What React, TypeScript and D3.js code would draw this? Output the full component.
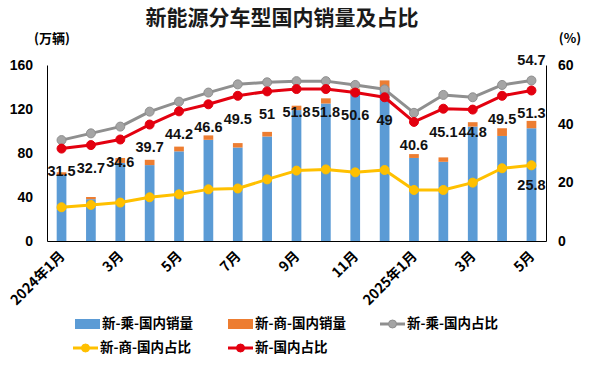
// @ts-nocheck
import * as d3 from 'd3';
import React, { useEffect, useRef } from 'react';

const months = [
  '2024年1月', '2月', '3月', '4月', '5月', '6月', '7月', '8月', '9月', '10月', '11月', '12月',
  '2025年1月', '2月', '3月', '4月', '5月',
];

// 万辆
const passengerSales = [60, 38, 71, 69, 81.5, 92, 85, 95, 119, 125, 134, 139, 75.5, 72, 104, 95.5, 102.5];
const commercialSales = [2.5, 2, 4.5, 4.8, 4.3, 4, 4, 4.2, 4, 4.7, 4.5, 7, 3.5, 4, 4, 7, 6.7];

// %
const passengerShare = [34.4, 36.7, 39, 44.1, 47.5, 50.6, 53.4, 54.1, 54.5, 54.5, 53.2, 51.7, 43.7, 49.8, 49, 53.2, 54.7];
const commercialShare = [11.5, 12.3, 13.1, 14.9, 15.9, 17.6, 17.9, 21, 24, 24.4, 23.4, 24.2, 17.4, 17.4, 19.9, 24.8, 25.8];
const totalShare = [31.5, 32.7, 34.6, 39.7, 44.2, 46.6, 49.5, 51, 51.8, 51.8, 50.6, 49, 40.6, 45.1, 44.8, 49.5, 51.3];

const leftTicks = [0, 40, 80, 120, 160];
const rightTicks = [0, 20, 40, 60];

const FONT = '"Noto Sans CJK SC", "Liberation Sans", sans-serif';
const NUM_FONT = '"Liberation Sans", Arial, sans-serif';

export default function App() {
  const svgRef = useRef<SVGSVGElement>(null);
  const width = 602;
  const height = 367;

  useEffect(() => {
    const svg = d3.select(svgRef.current);
    svg.selectAll('*').remove();

    const margin = { top: 65, right: 56, bottom: 126, left: 47 };
    const innerW = width - margin.left - margin.right;
    const innerH = height - margin.top - margin.bottom;
    const g = svg.append('g').attr('transform', `translate(${margin.left},${margin.top})`);

    const x = d3.scaleBand().domain(d3.range(months.length)).range([0, innerW]).paddingInner(0.67).paddingOuter(0.33);
    const yL = d3.scaleLinear().domain([0, 160]).range([innerH, 0]);
    const yR = d3.scaleLinear().domain([0, 60]).range([innerH, 0]);
    const cx = i => x(i) + x.bandwidth() / 2;

    // title
    svg.append('text')
      .attr('x', 282).attr('y', 25)
      .attr('text-anchor', 'middle')
      .style('font-family', FONT).style('font-size', '21px').style('font-weight', 'bold')
      .style('fill', '#1a1a1a')
      .text('新能源分车型国内销量及占比');

    svg.append('text').attr('x', 52).attr('y', 43).attr('text-anchor', 'middle')
      .style('font-family', FONT).style('font-size', '13px').style('font-weight', 'bold').text('(万辆)');
    svg.append('text').attr('x', 570).attr('y', 43).attr('text-anchor', 'middle')
      .style('font-family', FONT).style('font-size', '13px').style('font-weight', 'bold').text('(%)');

    // bars
    const stacked = passengerSales.map((v, i) => ({ i, p: v, c: commercialSales[i] }));
    g.selectAll('.barP').data(stacked).enter().append('rect')
      .attr('x', d => x(d.i)).attr('width', x.bandwidth())
      .attr('y', d => yL(d.p)).attr('height', d => innerH - yL(d.p))
      .attr('fill', '#5B9BD5');
    g.selectAll('.barC').data(stacked).enter().append('rect')
      .attr('x', d => x(d.i)).attr('width', x.bandwidth())
      .attr('y', d => yL(d.p + d.c)).attr('height', d => yL(d.p) - yL(d.p + d.c))
      .attr('fill', '#ED7D31');

    // axes
    const axisAttrs = sel => {
      sel.select('.domain').attr('stroke', '#000').attr('stroke-width', 1);
      sel.selectAll('.tick line').remove();
      sel.selectAll('text').style('font-family', NUM_FONT).style('font-size', '14px').style('font-weight', 'bold').attr('fill', '#000');
    };
    g.append('g')
      .call(d3.axisLeft(yL).tickValues(leftTicks).tickSize(0).tickPadding(14).tickSizeOuter(0))
      .call(axisAttrs);
    g.append('g').attr('transform', `translate(${innerW},0)`)
      .call(d3.axisRight(yR).tickValues(rightTicks).tickSize(0).tickPadding(12).tickSizeOuter(0))
      .call(axisAttrs);
    const xa = g.append('g').attr('transform', `translate(0,${innerH})`)
      .call(d3.axisBottom(x).tickSize(0).tickSizeOuter(0).tickFormat(i => months[i]));
    xa.select('.domain').attr('stroke', '#000');
    xa.selectAll('.tick').filter(i => !(i % 2 === 0)).remove();
    xa.selectAll('.tick text')
      .attr('text-anchor', 'end')
      .attr('dy', 0).attr('y', 0)
      .attr('transform', 'translate(4,16) rotate(-45)')
      .style('font-family', FONT).style('font-size', '14px').style('font-weight', 'bold').attr('fill', '#000');

    // lines
    const series = [
      { data: passengerShare, line: '#8F8F8F', dot: '#A5A5A5' },
      { data: commercialShare, line: '#FFC000', dot: '#FFC000' },
      { data: totalShare, line: '#E3000F', dot: '#E3000F' },
    ];
    const line = d3.line().x((d, i) => cx(i)).y(d => yR(d));
    series.forEach(s => {
      g.append('path').datum(s.data).attr('fill', 'none').attr('stroke', s.line).attr('stroke-width', 3)
        .attr('stroke-linejoin', 'round').attr('d', line);
      g.selectAll(null).data(s.data).enter().append('circle')
        .attr('cx', (d, i) => cx(i)).attr('cy', d => yR(d)).attr('r', 4.5)
        .attr('fill', s.dot).attr('stroke', s.line).attr('stroke-width', 1);
    });

    // data labels
    const lab = (px, py, t) =>
      g.append('text').attr('x', px).attr('y', py).attr('text-anchor', 'middle').attr('dominant-baseline', 'middle')
        .style('font-family', NUM_FONT).style('font-size', '14.5px').style('font-weight', 'bold').attr('fill', '#111')
        .text(t);
    totalShare.forEach((v, i) => lab(cx(i), yR(v) + 24, v));
    const last = months.length - 1;
    lab(cx(last), yR(passengerShare[last]) - 19, passengerShare[last]);
    lab(cx(last), yR(commercialShare[last]) + 21, commercialShare[last]);

    // legend
    const lg = svg.append('g').style('font-family', FONT).style('font-size', '13.5px').style('font-weight', 'bold');
    const items = [
      { name: '新-乘-国内销量', type: 'bar', color: '#5B9BD5', x: 75, y: 324 },
      { name: '新-商-国内销量', type: 'bar', color: '#ED7D31', x: 228, y: 324 },
      { name: '新-乘-国内占比', type: 'line', color: '#8F8F8F', dot: '#A5A5A5', x: 380, y: 324 },
      { name: '新-商-国内占比', type: 'line', color: '#FFC000', dot: '#FFC000', x: 73, y: 348 },
      { name: '新-国内占比', type: 'line', color: '#E3000F', dot: '#E3000F', x: 228, y: 348 },
    ];
    items.forEach(it => {
      if (it.type === 'bar') {
        lg.append('rect').attr('x', it.x).attr('y', it.y - 5).attr('width', 25).attr('height', 10).attr('fill', it.color);
      } else {
        lg.append('line').attr('x1', it.x).attr('x2', it.x + 25).attr('y1', it.y).attr('y2', it.y)
          .attr('stroke', it.color).attr('stroke-width', 3);
        lg.append('circle').attr('cx', it.x + 12.5).attr('cy', it.y).attr('r', 4).attr('fill', it.dot).attr('stroke', it.color);
      }
      lg.append('text').attr('x', it.x + 27).attr('y', it.y).attr('dominant-baseline', 'middle').text(it.name);
    });
  }, []);

  return (
    <div style={{ position: 'absolute', left: 0, top: 0 }}>
      <svg ref={svgRef} width={width} height={height} style={{ display: 'block', background: '#fff' }} />
    </div>
  );
}
